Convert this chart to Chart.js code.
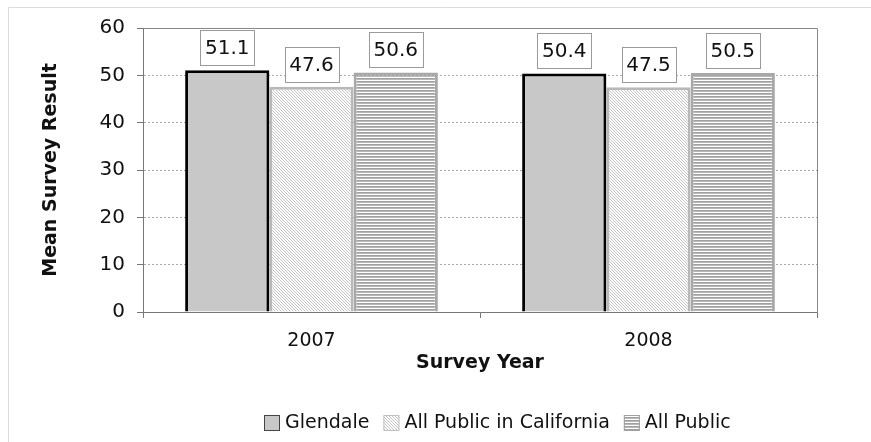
<!DOCTYPE html>
<html>
<head>
<meta charset="utf-8">
<style>
  html, body { margin: 0; padding: 0; background: #fff; }
  #wrap { width: 871px; height: 442px; position: relative; }
</style>
<script src="https://cdn.jsdelivr.net/npm/chart.js@4/dist/chart.umd.min.js"></script>
</head>
<body>
<div id="wrap"><canvas id="c" width="871" height="442"></canvas></div>
<script>
// Survey data
const years = ['2007', '2008'];
const seriesNames = ['Glendale', 'All Public in California', 'All Public'];
const glendale = [51.1, 50.4];
const allPublicCalifornia = [47.6, 47.5];
const allPublic = [50.6, 50.5];
const yTicks = [0, 10, 20, 30, 40, 50, 60];

const FONT = '"DejaVu Sans", Verdana, sans-serif';

// Small repeating tiles used as bar fills
function makePattern(w, h, paint) {
  const c = document.createElement('canvas');
  c.width = w; c.height = h;
  const g = c.getContext('2d');
  g.fillStyle = '#ffffff';
  g.fillRect(0, 0, w, h);
  paint(g);
  return g.createPattern(c, 'repeat');
}
const ctx = document.getElementById('c').getContext('2d');
const diagonalFill = makePattern(3, 3, g => {
  g.fillStyle = '#c2c2c2';
  for (let i = 0; i < 3; i++) g.fillRect(i, i, 1, 1);
});
const stripeFill = makePattern(1, 3, g => {
  g.fillStyle = '#a0a0a0'; g.fillRect(0, 0, 1, 1);
  g.fillStyle = '#b8b8b8'; g.fillRect(0, 1, 1, 1);
});

// Light frame around the whole chart and box around the plot area
const framePlugin = {
  id: 'frame',
  beforeDraw(chart) {
    const c = chart.ctx;
    c.save();
    c.strokeStyle = '#dcdcdc';
    c.lineWidth = 1;
    c.beginPath();
    c.moveTo(8.5, chart.height + 5);
    c.lineTo(8.5, 7.5);
    c.lineTo(chart.width + 5, 7.5);
    c.stroke();
    c.restore();
  },
  afterDraw(chart) {
    const a = chart.chartArea;
    const c = chart.ctx;
    c.save();
    c.strokeStyle = '#888888';
    c.lineWidth = 1;
    c.beginPath();
    c.moveTo(Math.round(a.left) + 0.5, Math.round(a.top) + 0.5);
    c.lineTo(Math.round(a.right) + 0.5, Math.round(a.top) + 0.5);
    c.lineTo(Math.round(a.right) + 0.5, Math.round(a.bottom) + 0.5);
    c.stroke();
    c.restore();
  }
};

// Boxed value labels above each bar
const valueLabelPlugin = {
  id: 'valueLabels',
  afterDatasetsDraw(chart) {
    const c = chart.ctx;
    c.save();
    c.font = '20px ' + FONT;
    c.textAlign = 'center';
    c.textBaseline = 'middle';
    chart.data.datasets.forEach((ds, di) => {
      const meta = chart.getDatasetMeta(di);
      meta.data.forEach((bar, i) => {
        const text = ds.data[i].toFixed(1);
        const w = 54, h = 35;
        const x = Math.round(bar.x - w / 2) + 0.5;
        const y = Math.round(bar.y - 5 - h) + 0.5;
        c.fillStyle = '#ffffff';
        c.fillRect(x, y, w, h);
        c.strokeStyle = '#9a9a9a';
        c.lineWidth = 1;
        c.strokeRect(x, y, w, h);
        c.fillStyle = '#111111';
        c.fillText(text, bar.x, y + h / 2 + 1);
      });
    });
    c.restore();
  }
};

// Legend row along the bottom
const legendRowPlugin = {
  id: 'legendRow',
  afterDraw(chart) {
    const c = chart.ctx;
    const box = 16, gap = 5, spacing = 14;
    c.save();
    c.font = '19px ' + FONT;
    c.textBaseline = 'middle';
    c.textAlign = 'left';
    const items = chart.data.datasets.map(ds => ({
      ds, w: box + gap + c.measureText(ds.label).width
    }));
    const total = items.reduce((s, it) => s + it.w, 0) + spacing * (items.length - 1);
    let x = Math.round(497 - total / 2);
    const cy = 423;
    items.forEach(it => {
      c.fillStyle = it.ds.backgroundColor;
      c.fillRect(x, cy - box / 2, box, box);
      c.strokeStyle = it.ds.legendBorder;
      c.lineWidth = 1;
      c.strokeRect(x + 0.5, cy - box / 2 + 0.5, box - 1, box - 1);
      c.fillStyle = '#111111';
      c.fillText(it.ds.label, x + box + gap, cy);
      x += it.w + spacing;
    });
    c.restore();
  }
};

const edge = { top: 3, left: 3, right: 3, bottom: 0 };

new Chart(ctx, {
  type: 'bar',
  data: {
    labels: years,
    datasets: [
      { label: seriesNames[0], data: glendale, backgroundColor: '#c8c8c8',
        borderColor: '#000000', borderWidth: edge, legendBorder: '#444444' },
      { label: seriesNames[1], data: allPublicCalifornia, backgroundColor: diagonalFill,
        borderColor: '#b8b8b8', borderWidth: edge, legendBorder: '#c0c0c0' },
      { label: seriesNames[2], data: allPublic, backgroundColor: stripeFill,
        borderColor: '#a8a8a8', borderWidth: edge, legendBorder: '#a0a0a0' }
    ]
  },
  options: {
    responsive: false,
    animation: false,
    devicePixelRatio: 1,
    layout: { padding: { left: 0, right: 54, top: 28, bottom: 60 } },
    datasets: { bar: { categoryPercentage: 0.75, barPercentage: 1.0, borderSkipped: false } },
    plugins: {
      legend: { display: false },
      tooltip: { enabled: false }
    },
    scales: {
      x: {
        offset: true,
        grid: { display: true, drawOnChartArea: false, offset: true, tickLength: 6,
                color: '#777777', tickColor: '#777777' },
        border: { color: '#777777' },
        ticks: { font: { family: FONT, size: 19 }, color: '#111111', padding: 12 },
        title: { display: true, text: 'Survey Year', color: '#111111',
                 font: { family: FONT, size: 19, weight: 'bold' },
                 padding: { top: 0, bottom: 8 } },
        afterFit(scale) { scale.height = 70; }
      },
      y: {
        min: 0, max: 60,
        afterBuildTicks(scale) { scale.ticks = yTicks.map(v => ({ value: v })); },
        grid: { color: '#a8a8a8', tickColor: '#777777', tickLength: 6, lineWidth: 1 },
        border: { color: '#777777', dash: [2, 2] },
        ticks: { font: { family: FONT, size: 20 }, color: '#111111', padding: 12 },
        title: { display: true, text: 'Mean Survey Result', color: '#111111',
                 font: { family: FONT, size: 19, weight: 'bold' },
                 padding: { top: 40, bottom: 0 } },
        afterFit(scale) { scale.width = 143; }
      }
    }
  },
  plugins: [framePlugin, valueLabelPlugin, legendRowPlugin]
});
</script>
</body>
</html>
